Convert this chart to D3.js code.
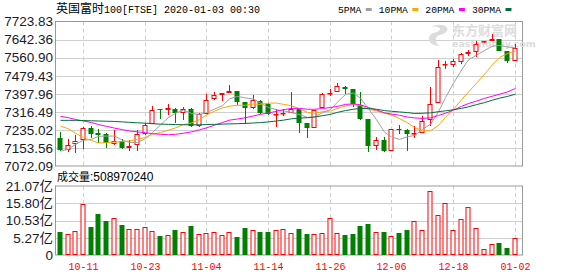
<!DOCTYPE html>
<html>
<head>
<meta charset="utf-8">
<script src="https://cdn.jsdelivr.net/npm/d3@7"></script>
<style>
  body { margin: 0; background: #fff; }
  svg { display: block; }
</style>
</head>
<body>
<svg id="kline" width="578" height="276"></svg>
<script>
// trading days shown on the chart
const dates = ['10-08','10-09','10-10','10-11','10-14','10-15','10-16','10-17','10-18','10-21',
  '10-22','10-23','10-24','10-25','10-28','10-29','10-30','10-31','11-01','11-04',
  '11-05','11-06','11-07','11-08','11-11','11-12','11-13','11-14','11-15','11-18',
  '11-19','11-20','11-21','11-22','11-25','11-26','11-27','11-28','11-29','12-02',
  '12-03','12-04','12-05','12-06','12-09','12-10','12-11','12-12','12-13','12-16',
  '12-17','12-18','12-19','12-20','12-23','12-24','12-27','12-30','12-31','01-02'];

const opens = [7198.3,7144.2,7172.8,7187.8,7244.9,7219.4,7214.9,7172.8,7184.8,7153.3,
  7168.3,7217.9,7261.5,7329.1,7326.1,7330.8,7311.2,7330.8,7251.1,7306.7,
  7374.4,7393.9,7401.4,7408.9,7359.3,7333.8,7366.8,7353.3,7302.2,7306.7,
  7312.7,7327.8,7264.6,7245.1,7333.8,7399.9,7407.4,7430.0,7417.9,7348.8,
  7285.7,7162.4,7188.0,7141.4,7240.6,7233.1,7215.1,7222.6,7278.2,7357.8,
  7527.7,7529.2,7542.7,7578.8,7586.3,7629.9,7635.9,7646.4,7589.3,7545.7];
const highs = [7225.4,7195.3,7213.4,7247.0,7251.0,7240.4,7220.9,7235.9,7195.3,7190.8,
  7232.9,7266.0,7341.1,7330.6,7350.1,7335.3,7336.8,7333.8,7311.2,7395.4,
  7404.4,7399.9,7436.0,7410.0,7360.0,7390.9,7369.8,7356.0,7327.8,7327.8,
  7404.4,7328.0,7265.0,7323.5,7400.0,7417.9,7448.0,7431.0,7418.0,7404.4,
  7286.0,7203.0,7203.0,7241.0,7255.6,7237.6,7251.1,7296.2,7428.5,7551.0,
  7545.7,7556.2,7581.8,7596.8,7635.9,7636.0,7668.9,7647.0,7590.0,7623.9];
const lows = [7139.7,7135.2,7130.7,7147.3,7199.9,7177.3,7153.3,7168.3,7150.3,7139.7,
  7139.7,7210.4,7260.0,7285.5,7300.6,7266.1,7278.2,7250.0,7249.0,7305.0,
  7372.0,7363.8,7400.0,7345.8,7263.1,7330.0,7305.2,7300.0,7248.1,7297.7,
  7310.0,7221.1,7198.5,7244.0,7333.0,7387.9,7406.0,7395.4,7338.3,7281.2,
  7135.4,7142.9,7135.4,7140.0,7218.0,7139.9,7198.5,7221.0,7252.6,7355.0,
  7511.1,7518.6,7530.7,7569.7,7563.7,7628.0,7635.0,7590.0,7536.5,7545.0];
const closes = [7144.2,7168.3,7186.3,7244.9,7216.4,7214.0,7175.8,7183.3,7153.3,7163.8,
  7214.9,7258.5,7326.1,7323.1,7332.1,7311.2,7327.8,7251.1,7305.2,7371.3,
  7390.9,7399.9,7408.9,7359.3,7333.8,7368.3,7311.2,7308.2,7308.2,7311.2,
  7327.8,7266.1,7243.6,7323.2,7398.4,7402.9,7431.5,7420.9,7350.3,7285.7,
  7160.9,7188.0,7139.9,7240.6,7233.1,7216.5,7221.1,7273.7,7353.3,7518.6,
  7533.7,7544.2,7575.8,7584.8,7623.9,7634.4,7646.4,7592.3,7547.3,7604.3];

// volume in 亿
const volumes = [7.02,6.41,7.33,15.58,8.55,12.52,10.38,11.2,9.16,7.84,
  7.84,8.45,7.33,5.8,6.1,7.63,7.02,8.86,6.41,6.72,
  7.02,6.1,7.02,5.5,8.25,7.63,7.02,7.02,7.63,7.94,
  6.72,7.94,6.41,6.3,6.72,11.2,6.72,6.1,6.41,8.86,
  9.47,6.92,7.02,5.7,6.72,7.63,10.28,7.53,19.44,12.11,
  15.78,7.53,10.89,14.56,8.14,1.73,3.26,3.66,2.14,5.09];

// moving averages
const ma5 = [7139,7148,7170,7188,7192,7206,7207,7207,7188,7178,
  7178,7195,7223,7257,7291,7310,7324,7309,7305,7313,
  7329,7344,7375,7386,7379,7374,7356,7336,7326,7321,
  7313,7304,7291,7294,7312,7327,7360,7395,7401,7378,
  7330,7281,7225,7203,7192,7204,7210,7237,7260,7317,
  7380,7445,7505,7551,7572,7593,7613,7616,7609,7605];
const ma10 = [7252,7240,7220,7200,7187,7176,7177,7180,7182,7185,
  7192,7201,7215,7223,7234,7244,7259,7266,7281,7302,
  7320,7334,7342,7346,7346,7352,7350,7356,7356,7350,
  7344,7330,7314,7310,7317,7320,7332,7343,7348,7345,
  7328,7321,7310,7302,7286,7267,7246,7231,7231,7255,
  7292,7328,7371,7406,7445,7486,7529,7561,7580,7589];
const ma20 = [7296,7290,7282,7275,7268,7259,7251,7243,7236,7230,
  7226,7222,7218,7215,7213,7215,7220,7226,7235,7244,
  7256,7268,7279,7284,7290,7298,7305,7311,7319,7326,
  7332,7332,7328,7328,7331,7336,7341,7350,7352,7348,
  7336,7325,7312,7306,7301,7293,7289,7287,7289,7300,
  7310,7324,7341,7354,7365,7377,7387,7396,7406,7422];
const ma30 = [7278,7278,7278,7277,7276,7275,7274,7273,7271,7269,
  7267,7265,7263,7261,7260,7259,7258,7258,7258,7259,
  7260,7261,7262,7263,7264,7266,7268,7271,7275,7279,
  7285,7288,7290,7293,7299,7305,7314,7322,7328,7332,
  7331,7328,7322,7319,7316,7313,7309,7310,7312,7317,
  7321,7326,7332,7339,7349,7358,7369,7378,7386,7396];

const priceTicks = [7072.09,7153.56,7235.02,7316.49,7397.96,7479.43,7560.90,7642.36,7723.83];
const volTicks = [0,5.27,10.53,15.80,21.07];
const dateTicks = ['10-11','10-23','11-04','11-14','11-26','12-06','12-18','01-02'];

const maNames = ['5PMA','10PMA','20PMA','30PMA'];
const maColors = ['#a0a0a0','#ffa500','#ff00ff','#006f3c'];

const UP = '#ff0000', DOWN = '#008000';
const PLOT = {left: 55.5, right: 522.5};
const PRICE = {top: 21.5, bottom: 166};
const VOL = {top: 186, bottom: 255};

const svg = d3.select('#kline');

const bars = dates.map((d, i) => ({date: d, o: opens[i], h: highs[i], l: lows[i], c: closes[i], v: volumes[i]}));

// scales
const xScale = d3.scaleBand()
  .domain(dates)
  .range([56, 518.5])
  .paddingInner(0.35)
  .paddingOuter(0.175);
const xc = (d) => Math.round(xScale(d) + xScale.bandwidth() / 2) + 0.5;

const yScale = d3.scaleLinear()
  .domain([priceTicks[0], priceTicks[priceTicks.length - 1]])
  .range([PRICE.bottom, PRICE.top]);

const vScale = d3.scaleLinear()
  .domain([0, volTicks[volTicks.length - 1]])
  .range([VOL.bottom, VOL.top]);

// grid lines
function drawGrid(top, bottom, ticks, scale) {
  const g = svg.append('g');
  g.selectAll('line.h')
    .data(ticks.slice(1, -1))
    .enter().append('line')
    .attr('x1', PLOT.left).attr('x2', PLOT.right)
    .attr('y1', (d) => Math.round(scale(d)) + 0.5)
    .attr('y2', (d) => Math.round(scale(d)) + 0.5)
    .attr('stroke', '#cfcfcf');
  g.selectAll('line.v')
    .data(dateTicks)
    .enter().append('line')
    .attr('x1', (d) => xc(d)).attr('x2', (d) => xc(d))
    .attr('y1', top).attr('y2', bottom)
    .attr('stroke', '#cfcfcf')
    .attr('stroke-dasharray', '4,3');
  g.append('rect')
    .attr('x', PLOT.left).attr('y', top)
    .attr('width', PLOT.right - PLOT.left).attr('height', bottom - top)
    .attr('fill', 'none')
    .attr('stroke', '#999');
}
drawGrid(PRICE.top, PRICE.bottom, priceTicks, yScale);
drawGrid(VOL.top, VOL.bottom, volTicks, vScale);

// watermark
const wm = svg.append('g').attr('fill', '#dcdcdc');
wm.append('path')
  .attr('d', 'M430,27 C440,22 450,26 447,31 C444,36 436,33 436,40 C436,45 440,46 443,44 C436,48 428,44 429,37 C430,32 440,33 440,29 C440,27 434,26 430,27 Z');
wm.append('text')
  .attr('x', 452).attr('y', 35)
  .style('font-family', '"Noto Sans CJK SC"')
  .style('font-size', '13px').style('font-weight', 'bold')
  .text('东方财富网');
wm.append('text')
  .attr('x', 452).attr('y', 47)
  .style('font-family', '"DejaVu Sans"')
  .style('font-size', '9.5px').style('font-weight', 'bold')
  .text('eastmoney.com');

// candles
const candles = svg.append('g');
bars.forEach((d) => {
  const up = d.c >= d.o;
  const col = up ? UP : DOWN;
  const x = xc(d.date);
  const w = 5;
  const yTop = Math.round(yScale(Math.max(d.o, d.c)));
  const yBot = Math.round(yScale(Math.min(d.o, d.c)));
  candles.append('line')
    .attr('x1', x).attr('x2', x)
    .attr('y1', Math.round(yScale(d.h))).attr('y2', Math.round(yScale(d.l)))
    .attr('stroke', col);
  if (up) {
    candles.append('rect')
      .attr('x', x - w / 2).attr('y', yTop + 0.5)
      .attr('width', w - 1).attr('height', Math.max(yBot - yTop - 1, 0.5))
      .attr('fill', '#fff').attr('stroke', col);
  } else {
    candles.append('rect')
      .attr('x', x - w / 2 - 0.5).attr('y', yTop)
      .attr('width', w).attr('height', Math.max(yBot - yTop, 1))
      .attr('fill', col);
  }
});

// moving average lines
[ma5, ma10, ma20, ma30].forEach((ma, k) => {
  svg.append('path')
    .datum(ma)
    .attr('d', d3.line()
      .x((d, i) => xc(dates[i]))
      .y((d) => yScale(d)))
    .attr('fill', 'none')
    .attr('stroke', maColors[k])
    .attr('stroke-width', 1);
});

// volume bars
const vol = svg.append('g');
bars.forEach((d) => {
  const up = d.c >= d.o;
  const x = xc(d.date);
  const yTop = Math.round(vScale(d.v));
  if (up) {
    vol.append('rect')
      .attr('x', x - 2.5).attr('y', yTop + 0.5)
      .attr('width', 4).attr('height', VOL.bottom - yTop - 1)
      .attr('fill', '#fff').attr('stroke', UP);
  } else {
    vol.append('rect')
      .attr('x', x - 3).attr('y', yTop)
      .attr('width', 5).attr('height', VOL.bottom - yTop)
      .attr('fill', DOWN);
  }
});

// y-axis labels
svg.append('g').selectAll('text')
  .data(priceTicks)
  .enter().append('text')
  .attr('x', 53).attr('y', (d) => yScale(d))
  .attr('dy', '0.36em')
  .attr('text-anchor', 'end')
  .attr('fill', '#1a1a2a')
  .style('font-family', '"Liberation Sans", Arial')
  .style('font-size', '13.5px')
  .text((d) => d.toFixed(2));

svg.append('g').selectAll('text')
  .data(volTicks)
  .enter().append('text')
  .attr('x', 53).attr('y', (d) => vScale(d))
  .attr('dy', '0.36em')
  .attr('text-anchor', 'end')
  .attr('fill', '#1a1a2a')
  .style('font-family', '"Liberation Sans", "Noto Sans CJK SC"')
  .style('font-size', '13.5px')
  .text((d) => d === 0 ? '0' : d.toFixed(2) + '亿');

// x-axis labels
svg.append('g').selectAll('text')
  .data(dateTicks)
  .enter().append('text')
  .attr('x', (d) => xc(d)).attr('y', 270)
  .attr('text-anchor', 'middle')
  .attr('fill', '#ff0000')
  .style('font-family', '"Liberation Mono", monospace')
  .style('font-size', '10px')
  .text((d) => d);

// title
const title = svg.append('text')
  .attr('x', 56).attr('y', 13)
  .attr('fill', '#000');
title.append('tspan')
  .style('font-family', '"Noto Sans CJK SC"').style('font-size', '12px')
  .text('英国富时');
title.append('tspan')
  .style('font-family', '"Liberation Mono", monospace').style('font-size', '10px')
  .text('100[FTSE] 2020-01-03 00:30');

// legend
let lx = 338;
maNames.forEach((name, k) => {
  const t = svg.append('text')
    .attr('x', lx).attr('y', 13)
    .attr('fill', '#000')
    .style('font-family', '"Liberation Mono", monospace')
    .style('font-size', '9.7px')
    .text(name);
  const tw = t.node().getComputedTextLength();
  svg.append('rect')
    .attr('x', lx + tw + 4.5).attr('y', 8)
    .attr('width', 6).attr('height', 3)
    .attr('fill', maColors[k]);
  lx += tw + 17.5;
});

// volume caption
const cap = svg.append('text')
  .attr('x', 57).attr('y', 181)
  .attr('fill', '#000');
cap.append('tspan')
  .style('font-family', '"Noto Sans CJK SC"').style('font-size', '11px')
  .text('成交量');
cap.append('tspan')
  .style('font-family', '"Liberation Sans", Arial').style('font-size', '12px')
  .text(':508970240');
</script>
</body>
</html>
